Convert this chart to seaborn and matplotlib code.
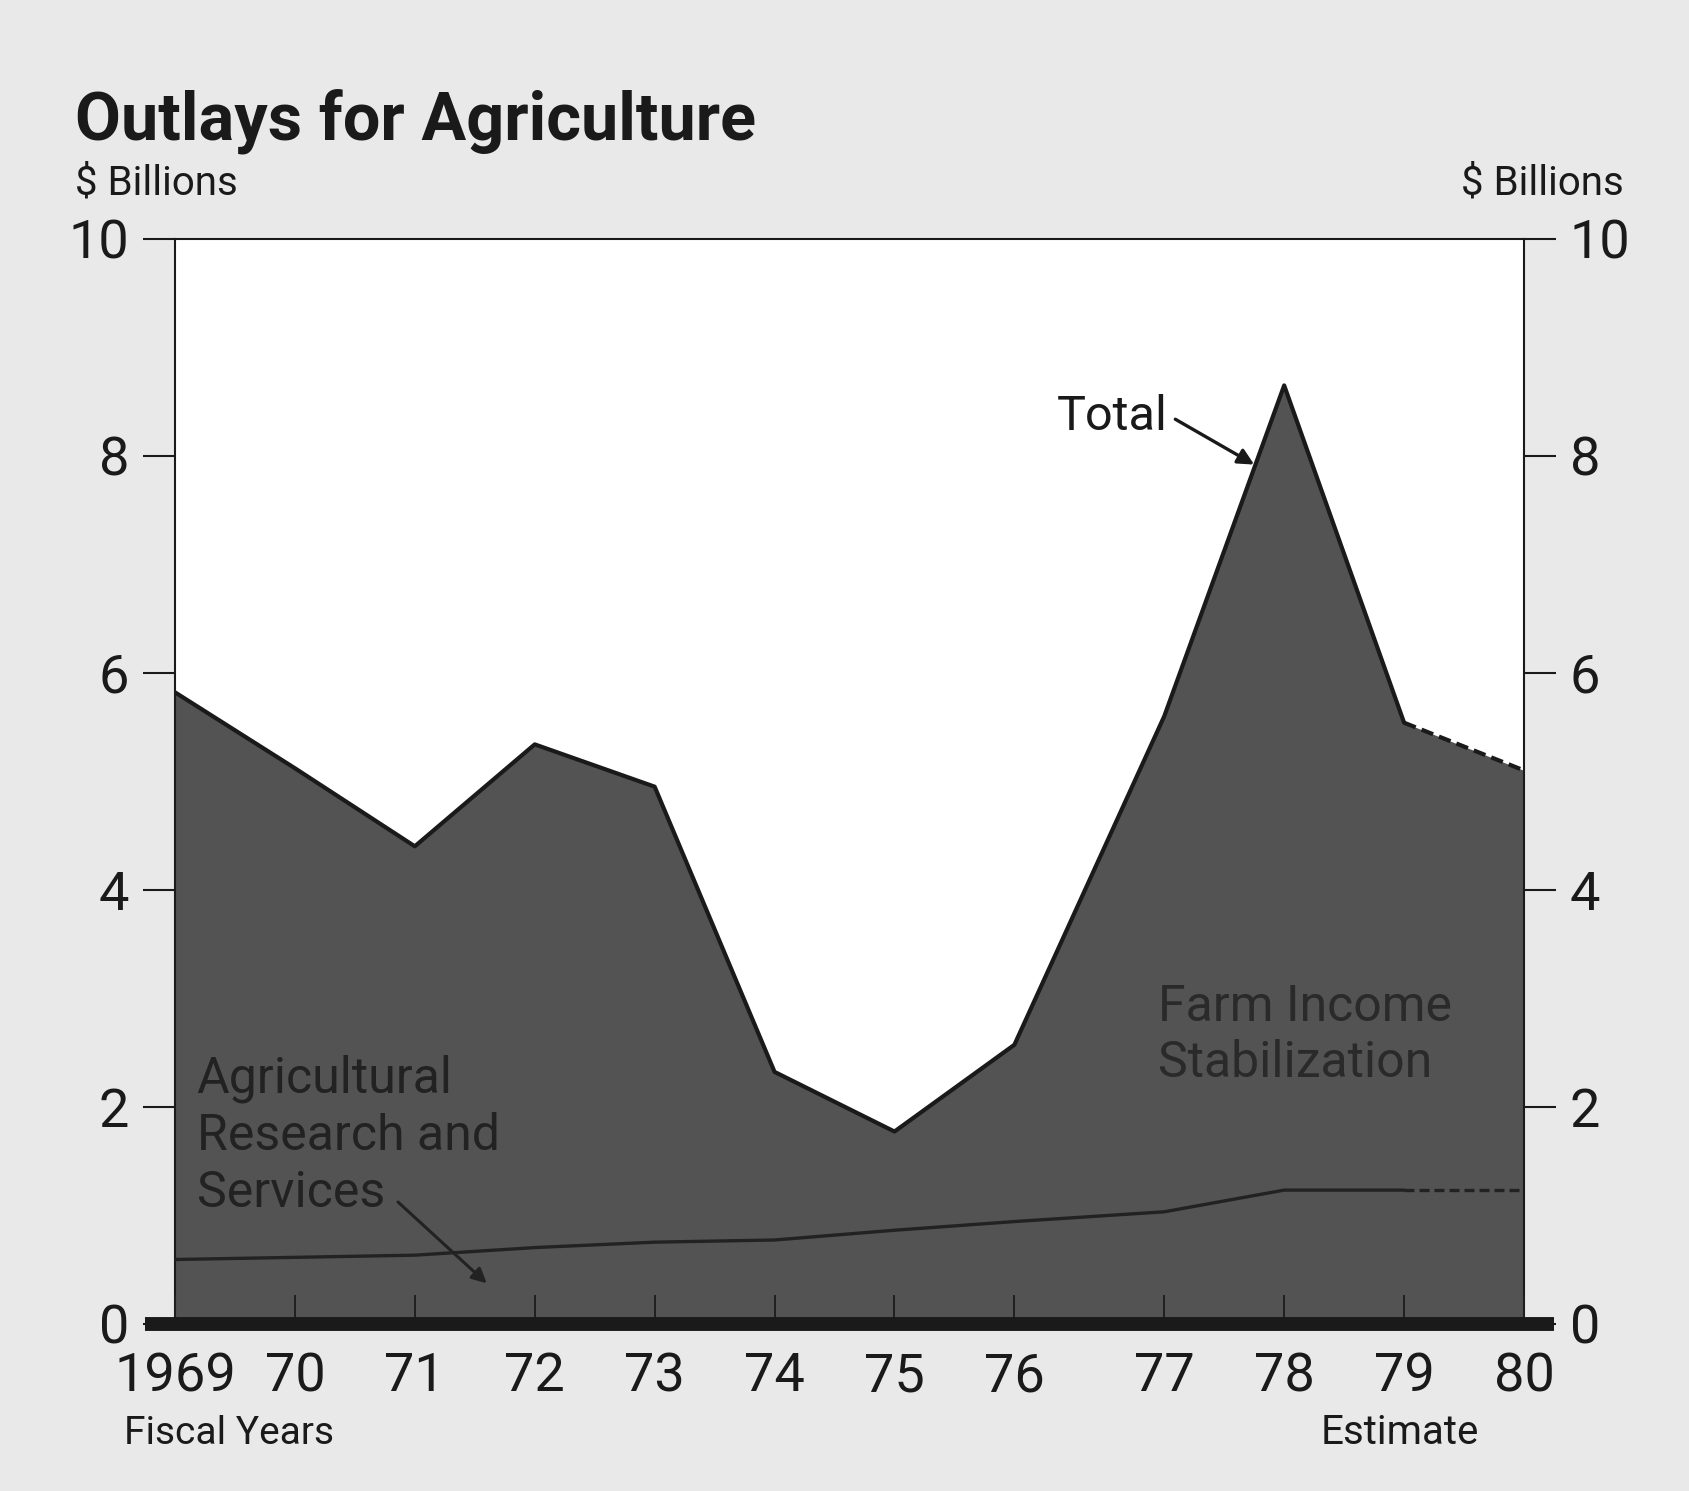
import matplotlib.pyplot as plt
import pandas as pd
import seaborn as sns

# fiscal years; the 1976 transition quarter adds a quarter-year gap before 77
years = ['1969', '70', '71', '72', '73', '74', '75', '76', '77', '78', '79', '80']
year_pos = [1969, 1970, 1971, 1972, 1973, 1974, 1975, 1976, 1977.25, 1978.25, 1979.25, 1980.25]

# $ billions
total = [5.82, 5.12, 4.40, 5.34, 4.95, 2.32, 1.77, 2.57, 5.60, 8.65, 5.54, 5.10]
research = [0.59, 0.61, 0.63, 0.70, 0.75, 0.77, 0.86, 0.94, 1.03, 1.23, 1.23, 1.23]
n_actual = 11  # last point (1980) is an estimate

W, H = 1690, 1491
BG = '#e9e9e9'
FILL = '#535353'
INK = '#1a1a1a'

sns.set_style('white')
plt.rcParams['font.family'] = ['Roboto', 'DejaVu Sans']

df = pd.DataFrame({'pos': year_pos, 'total': total, 'research': research})
act = df.iloc[:n_actual]
est = df.iloc[n_actual - 1:]

fig = plt.figure(figsize=(W / 100, H / 100), dpi=100, facecolor=BG)
ax = fig.add_axes([175 / W, 1 - 1323.5 / H, 1349 / W, (1323.5 - 239) / H])
ax.set_facecolor('white')
ax.set_axisbelow(False)  # ticks must show on top of the shaded area

# shaded areas
ax.fill_between(df['pos'], 0, df['total'], color=FILL, lw=0, zorder=1)
ax.fill_between(df['pos'], 0, df['research'], color=FILL, lw=0, zorder=1)

# outlines
sns.lineplot(data=act, x='pos', y='total', ax=ax, color=INK, lw=3, zorder=3)
sns.lineplot(data=est, x='pos', y='total', ax=ax, color=INK, lw=3, zorder=3,
             linestyle=(0, (3, 1.5)))
sns.lineplot(data=act, x='pos', y='research', ax=ax, color='#222222', lw=2.4, zorder=3)
sns.lineplot(data=est, x='pos', y='research', ax=ax, color='#222222', lw=2.4, zorder=3,
             linestyle=(0, (3, 1.5)))

ax.set_xlim(year_pos[0], year_pos[-1])
ax.set_ylim(0, 10)
ax.set_xlabel('')
ax.set_ylabel('')

ax.set_xticks(year_pos)
ax.set_xticklabels(years)
ax.set_yticks([0, 2, 4, 6, 8, 10])
ax.tick_params(axis='y', which='both', left=True, right=True, labelleft=True, labelright=True,
               direction='out', length=23, width=1.5, color=INK, pad=10,
               labelsize=39, labelcolor=INK)
ax.tick_params(axis='x', bottom=True, direction='in', length=21, width=1.4, color='#202020',
               pad=20, labelsize=39, labelcolor=INK)

for side in ['left', 'right', 'top']:
    ax.spines[side].set_linewidth(1.5)
    ax.spines[side].set_color(INK)
ax.spines['bottom'].set_visible(False)

# heavy zero line running past both axes
ax.axhline(0, xmin=-0.022, xmax=1.022, color=INK, lw=10, clip_on=False, zorder=5,
           solid_capstyle='butt')

# titles and axis notes
fig.text(75 / W, 1 - 140 / H, 'Outlays for Agriculture', fontsize=48, fontweight='bold',
         color=INK, ha='left', va='baseline')
fig.text(75 / W, 1 - 194 / H, '$ Billions', fontsize=29, color=INK, ha='left', va='baseline')
fig.text(1624 / W, 1 - 194 / H, '$ Billions', fontsize=29, color=INK, ha='right', va='baseline')
fig.text(124 / W, 1 - 1444 / H, 'Fiscal Years', fontsize=28, color=INK, ha='left', va='baseline')
fig.text(1400 / W, 1 - 1444 / H, 'Estimate', fontsize=29, color=INK, ha='center', va='baseline')

# series labels
ax.annotate('Total', xy=(1978.0, 7.92), xytext=(1976.35, 8.24), fontsize=35, color=INK,
            ha='left', va='baseline',
            arrowprops=dict(arrowstyle='-|>', color=INK, lw=2.4, mutation_scale=24,
                            relpos=(1, 0.55), shrinkA=4, shrinkB=0))
ax.text(1977.2, 3.14, 'Farm Income\nStabilization', fontsize=36, color='#2a2a2a',
        ha='left', va='top', linespacing=1.2, zorder=4)
ax.text(1969.18, 2.48, 'Agricultural\nResearch and\nServices', fontsize=36, color='#222222',
        ha='left', va='top', linespacing=1.23, zorder=4)
ax.annotate('', xy=(1971.6, 0.37), xytext=(1970.86, 1.12),
            arrowprops=dict(arrowstyle='-|>', color='#222222', lw=2.2, mutation_scale=22,
                            shrinkA=0, shrinkB=0), zorder=4)

fig.savefig('out.png', dpi=100, facecolor=BG)
